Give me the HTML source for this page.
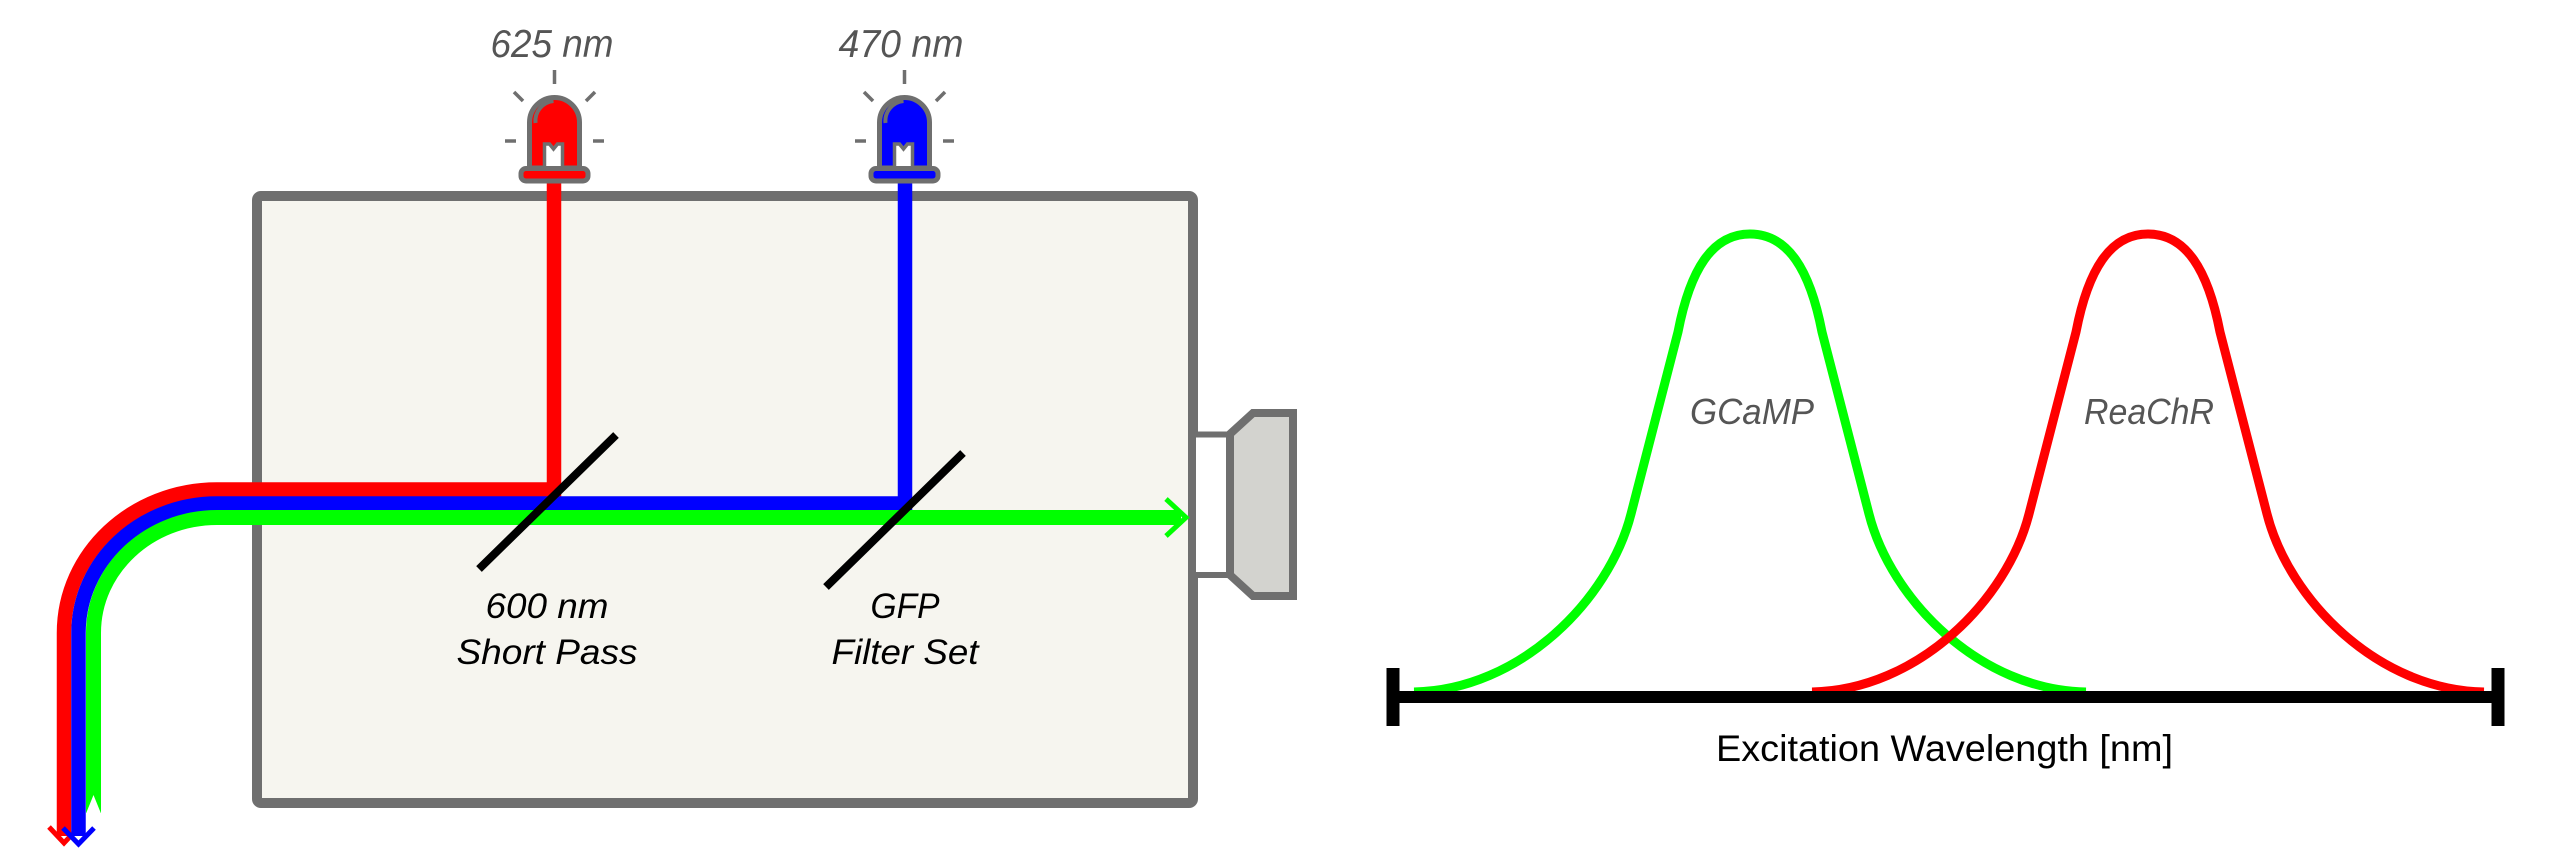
<!DOCTYPE html>
<html>
<head>
<meta charset="utf-8">
<style>
  html,body{margin:0;padding:0;background:#fff;}
  svg{display:block;}
  text{font-family:"Liberation Sans", Arial, sans-serif;}
</style>
</head>
<body>
<svg width="2560" height="854" viewBox="0 0 2560 854" xmlns="http://www.w3.org/2000/svg">
  <rect width="2560" height="854" fill="#ffffff"/>

  <!-- main box -->
  <rect x="257" y="196" width="936" height="607" rx="4" fill="#f6f5ef" stroke="#6f6f6f" stroke-width="10"/>

  <!-- camera connector -->
  <rect x="1193" y="434.5" width="37" height="140.5" fill="#ffffff" stroke="#6f6f6f" stroke-width="6"/>
  <!-- camera body -->
  <polygon points="1230,434 1253,413 1293,413 1293,596 1253,596 1230,575" fill="#d3d3cf" stroke="#6f6f6f" stroke-width="8" stroke-linejoin="miter"/>

  <!-- light paths -->
  <path d="M554,181 L554,489.5 L217,489.5 C132.5,489.5 64,553.5 64,633 L64,836" fill="none" stroke="#ff0000" stroke-width="14.5" stroke-linejoin="miter"/>
  <polyline points="49,827 64,843 79,827" fill="none" stroke="#ff0000" stroke-width="5" stroke-linejoin="miter"/>

  <path d="M905,181 L905,503.5 L217,503.5 C140.5,503.5 78.5,561.5 78.5,633 L78.5,836" fill="none" stroke="#0000ff" stroke-width="14.5" stroke-linejoin="miter"/>
  <polyline points="63,828 78.5,844 94,828" fill="none" stroke="#0000ff" stroke-width="5" stroke-linejoin="miter"/>

  <path d="M1181,517.5 L217,517.5 C149,517.5 93.5,569 93.5,633 L93.5,813" fill="none" stroke="#00ff00" stroke-width="15" stroke-linejoin="miter"/>
  <polygon points="86,813.5 93.5,795 101,813.5" fill="#ffffff"/>
  <polyline points="1166,499 1186,517.5 1166,536" fill="none" stroke="#00ff00" stroke-width="5" stroke-linejoin="miter"/>

  <!-- mirrors -->
  <line x1="479" y1="569" x2="616" y2="435" stroke="#000" stroke-width="8"/>
  <line x1="826" y1="587" x2="963" y2="453" stroke="#000" stroke-width="8"/>

  <!-- LED red -->
  <g transform="translate(554.5,0)" stroke="#6f6f6f">
    <line x1="0" y1="70" x2="0" y2="84" stroke-width="3.5"/>
    <line x1="-40.5" y1="92" x2="-31.5" y2="101" stroke-width="3.5"/>
    <line x1="40.5" y1="92" x2="31.5" y2="101" stroke-width="3.5"/>
    <line x1="-49.5" y1="141" x2="-38.5" y2="141" stroke-width="3.5"/>
    <line x1="38.5" y1="141" x2="49.5" y2="141" stroke-width="3.5"/>
    <path d="M-25,168 L-25,122.5 A25,25 0 0 1 25,122.5 L25,168 Z" fill="#ff0000" stroke-width="5"/>
    <path d="M-10,168 L-10,144 L-5,144 L-1,149 L3,144 L8,144 L8,168" fill="#ffffff" stroke-width="3.5"/>
    <rect x="-33.5" y="168.5" width="67" height="12.5" rx="5" fill="#ff0000" stroke-width="5"/>
    <path d="M-19,123 A20,20 0 0 1 -1,101" fill="none" stroke-width="4"/>
  </g>

  <!-- LED blue -->
  <g transform="translate(904.5,0)" stroke="#6f6f6f">
    <line x1="0" y1="70" x2="0" y2="84" stroke-width="3.5"/>
    <line x1="-40.5" y1="92" x2="-31.5" y2="101" stroke-width="3.5"/>
    <line x1="40.5" y1="92" x2="31.5" y2="101" stroke-width="3.5"/>
    <line x1="-49.5" y1="141" x2="-38.5" y2="141" stroke-width="3.5"/>
    <line x1="38.5" y1="141" x2="49.5" y2="141" stroke-width="3.5"/>
    <path d="M-25,168 L-25,122.5 A25,25 0 0 1 25,122.5 L25,168 Z" fill="#0000ff" stroke-width="5"/>
    <path d="M-10,168 L-10,144 L-5,144 L-1,149 L3,144 L8,144 L8,168" fill="#ffffff" stroke-width="3.5"/>
    <rect x="-33.5" y="168.5" width="67" height="12.5" rx="5" fill="#0000ff" stroke-width="5"/>
    <path d="M-19,123 A20,20 0 0 1 -1,101" fill="none" stroke-width="4"/>
  </g>

  <!-- labels left -->
  <text x="552" y="57" font-size="39" font-style="italic" fill="#555555" text-anchor="middle" textLength="123" lengthAdjust="spacingAndGlyphs">625 nm</text>
  <text x="901" y="57" font-size="39" font-style="italic" fill="#555555" text-anchor="middle" textLength="125" lengthAdjust="spacingAndGlyphs">470 nm</text>

  <text x="547" y="618" font-size="35" font-style="italic" fill="#000" text-anchor="middle" textLength="123" lengthAdjust="spacingAndGlyphs">600 nm</text>
  <text x="547" y="664" font-size="35" font-style="italic" fill="#000" text-anchor="middle" textLength="181" lengthAdjust="spacingAndGlyphs">Short Pass</text>
  <text x="905" y="618" font-size="35" font-style="italic" fill="#000" text-anchor="middle" textLength="69" lengthAdjust="spacingAndGlyphs">GFP</text>
  <text x="905" y="664" font-size="35" font-style="italic" fill="#000" text-anchor="middle" textLength="147" lengthAdjust="spacingAndGlyphs">Filter Set</text>

  <!-- chart curves -->
  <path d="M1414,692 C1520,690 1609,600 1631,514 L1678,332 C1690,270 1712,234 1750,234 C1788,234 1810,270 1822,332 L1869,514 C1891,600 1980,690 2086,692" fill="none" stroke="#00ff00" stroke-width="9" stroke-linejoin="round"/>
  <path transform="translate(398,0)" d="M1414,692 C1520,690 1609,600 1631,514 L1678,332 C1690,270 1712,234 1750,234 C1788,234 1810,270 1822,332 L1869,514 C1891,600 1980,690 2086,692" fill="none" stroke="#ff0000" stroke-width="9" stroke-linejoin="round"/>

  <!-- axis -->
  <line x1="1393" y1="697" x2="2498" y2="697" stroke="#000" stroke-width="12"/>
  <line x1="1393" y1="668" x2="1393" y2="726" stroke="#000" stroke-width="13"/>
  <line x1="2498" y1="668" x2="2498" y2="726" stroke="#000" stroke-width="13"/>

  <!-- chart labels -->
  <text x="1752" y="424" font-size="36" font-style="italic" fill="#555555" text-anchor="middle" textLength="124" lengthAdjust="spacingAndGlyphs">GCaMP</text>
  <text x="2149" y="424" font-size="36" font-style="italic" fill="#555555" text-anchor="middle" textLength="130" lengthAdjust="spacingAndGlyphs">ReaChR</text>
  <text x="1944.5" y="761" font-size="37" fill="#000" text-anchor="middle" textLength="457" lengthAdjust="spacingAndGlyphs">Excitation Wavelength [nm]</text>
</svg>
</body>
</html>
